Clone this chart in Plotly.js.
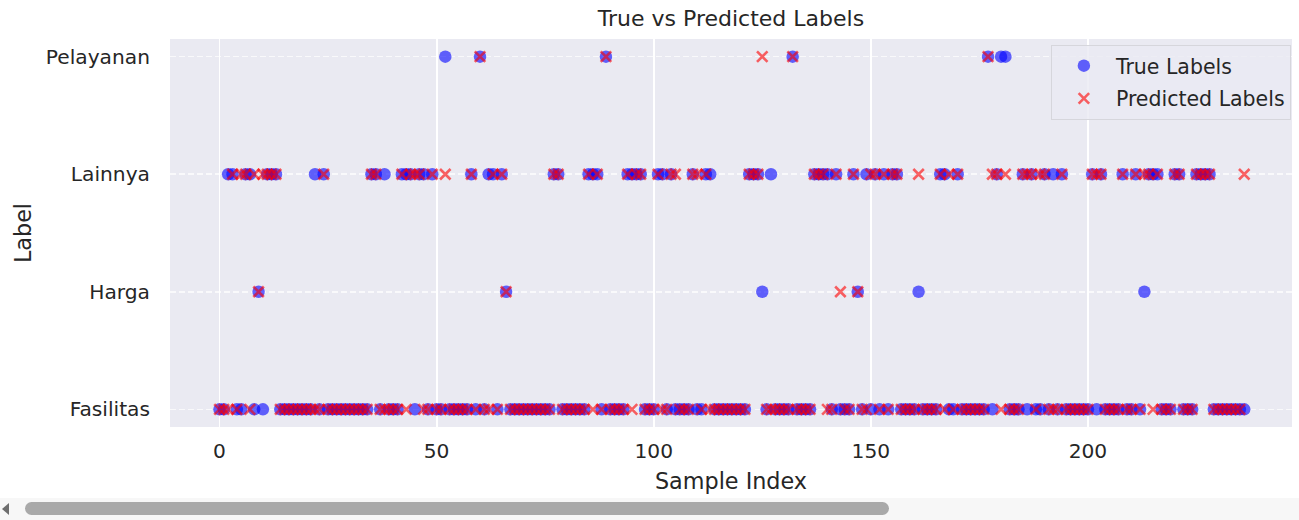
<!DOCTYPE html>
<html>
<head>
<meta charset="utf-8">
<script src="https://cdn.plot.ly/plotly-3.0.1.min.js"></script>
<style>
  html, body { margin: 0; padding: 0; background: #ffffff; }
  #chart { width: 1299px; height: 520px; }
  #track { position: absolute; left: 0; top: 498px; width: 1299px; height: 22px; background: #f7f7f7; }
  #thumb { position: absolute; left: 25px; top: 502px; width: 864px; height: 13px; border-radius: 7px; background: #a9a9a9; }
  #arrow { position: absolute; left: 2px; top: 503px; width: 0; height: 0;
           border-top: 6px solid transparent; border-bottom: 6px solid transparent; border-right: 7px solid #6e6e6e; }
</style>
</head>
<body>
<div id="chart"></div>
<div id="track"></div>
<div id="thumb"></div>
<div id="arrow"></div>
<script>
// ---- data ----
const sampleCount = 237;
const categories = ['Fasilitas', 'Harga', 'Lainnya', 'Pelayanan'];
const xTickValues = [0, 50, 100, 150, 200];

// indices where true = Lainnya and predicted = Lainnya
const lainnyaBoth = [3, 6, 11, 12, 13, 24, 35, 36, 42, 44, 46, 49, 58, 63, 65, 77, 78, 85, 87,
  94, 96, 97, 101, 104, 109, 112, 122, 123, 124, 137, 138, 139, 142, 146, 151, 153, 155, 156,
  166, 170, 179, 185, 187, 190, 194, 201, 203, 208, 211, 214, 216, 220, 221, 225, 226, 227, 228];
// true = Lainnya, predicted = Fasilitas
const lainnyaTrueOnly = [2, 7, 22, 38, 43, 47, 62, 86, 95, 102, 113, 127, 140, 149, 167, 192, 215];
// true = Fasilitas, predicted = Lainnya
const lainnyaPredOnly = [5, 8, 10, 45, 105, 110, 150, 168, 178, 186, 189, 202, 236];
// true = predicted = Harga
const hargaBoth = [9, 66, 147];
// true = predicted = Pelayanan
const pelayananBoth = [60, 89, 132, 177];
// other mismatches: [index, true label, predicted label]
const otherMismatches = [
  [52, 'Pelayanan', 'Lainnya'],
  [125, 'Harga', 'Pelayanan'],
  [143, 'Fasilitas', 'Harga'],
  [161, 'Harga', 'Lainnya'],
  [180, 'Pelayanan', 'Fasilitas'],
  [181, 'Pelayanan', 'Lainnya'],
  [213, 'Harga', 'Lainnya']
];

// ---- build label arrays ----
const sampleIndex = [];
const trueLabels = [];
const predLabels = [];
for (let i = 0; i < sampleCount; i++) {
  sampleIndex.push(i);
  trueLabels.push('Fasilitas');
  predLabels.push('Fasilitas');
}
lainnyaBoth.forEach(i => { trueLabels[i] = 'Lainnya'; predLabels[i] = 'Lainnya'; });
lainnyaTrueOnly.forEach(i => { trueLabels[i] = 'Lainnya'; });
lainnyaPredOnly.forEach(i => { predLabels[i] = 'Lainnya'; });
hargaBoth.forEach(i => { trueLabels[i] = 'Harga'; predLabels[i] = 'Harga'; });
pelayananBoth.forEach(i => { trueLabels[i] = 'Pelayanan'; predLabels[i] = 'Pelayanan'; });
otherMismatches.forEach(([i, t, p]) => { trueLabels[i] = t; predLabels[i] = p; });

const toCode = lab => categories.indexOf(lab);

const FONT = 'DejaVu Sans, Liberation Sans, sans-serif';
const TXT = '#262626';

const traces = [
  {
    type: 'scatter', mode: 'markers', name: 'True Labels', legendgroup: 'a',
    x: sampleIndex, y: trueLabels.map(toCode),
    marker: { symbol: 'circle', size: 12.5, color: 'blue', opacity: 0.6, line: { width: 0 } },
    hoverinfo: 'skip'
  },
  {
    type: 'scatter', mode: 'markers', name: 'Predicted Labels', legendgroup: 'b',
    x: sampleIndex, y: predLabels.map(toCode),
    marker: { symbol: 'x-thin', size: 10.5, color: 'red', opacity: 0.6, line: { width: 2.6, color: 'red' } },
    hoverinfo: 'skip'
  }
];

const layout = {
  width: 1299, height: 520,
  margin: { l: 170, r: 7, t: 39, b: 93 },
  paper_bgcolor: '#ffffff',
  plot_bgcolor: '#EAEAF2',
  font: { family: FONT, color: TXT, size: 20 },
  title: {
    text: 'True vs Predicted Labels',
    font: { family: FONT, size: 22, color: TXT },
    x: 0.5, xref: 'paper', xanchor: 'center',
    y: 1 - 18 / 520, yref: 'container', yanchor: 'middle'
  },
  xaxis: {
    range: [-11.4, 247.0],
    tickvals: xTickValues,
    ticktext: xTickValues.map(String),
    ticks: 'outside', ticklen: 6, tickcolor: 'rgba(0,0,0,0)',
    tickfont: { family: FONT, size: 20.2, color: TXT },
    showgrid: true, gridcolor: '#ffffff', gridwidth: 1.8,
    zeroline: false, showline: false,
    title: { text: 'Sample Index', font: { family: FONT, size: 22.3, color: TXT }, standoff: 11 },
    automargin: false
  },
  yaxis: {
    range: [-0.15, 3.15],
    tickvals: categories.map((c, i) => i),
    ticktext: categories,
    ticks: 'outside', ticklen: 15, tickcolor: 'rgba(0,0,0,0)',
    tickfont: { family: FONT, size: 20.2, color: TXT },
    showgrid: true, gridcolor: 'rgba(255,255,255,0.7)', gridwidth: 1.5, griddash: '6px,3px',
    zeroline: false, showline: false,
    title: { text: 'Label', font: { family: FONT, size: 22.3, color: TXT }, standoff: 8 },
    automargin: false
  },
  showlegend: true,
  legend: {
    x: 0.999, xanchor: 'right', xref: 'paper',
    y: 0.985, yanchor: 'top', yref: 'paper',
    bgcolor: 'rgba(234,234,242,0.8)', bordercolor: '#d6d6dc', borderwidth: 1,
    font: { family: FONT, size: 20.5, color: TXT },
    itemwidth: 54, tracegroupgap: 3
  }
};

Plotly.newPlot('chart', traces, layout, { staticPlot: true, displayModeBar: false });
</script>
</body>
</html>
